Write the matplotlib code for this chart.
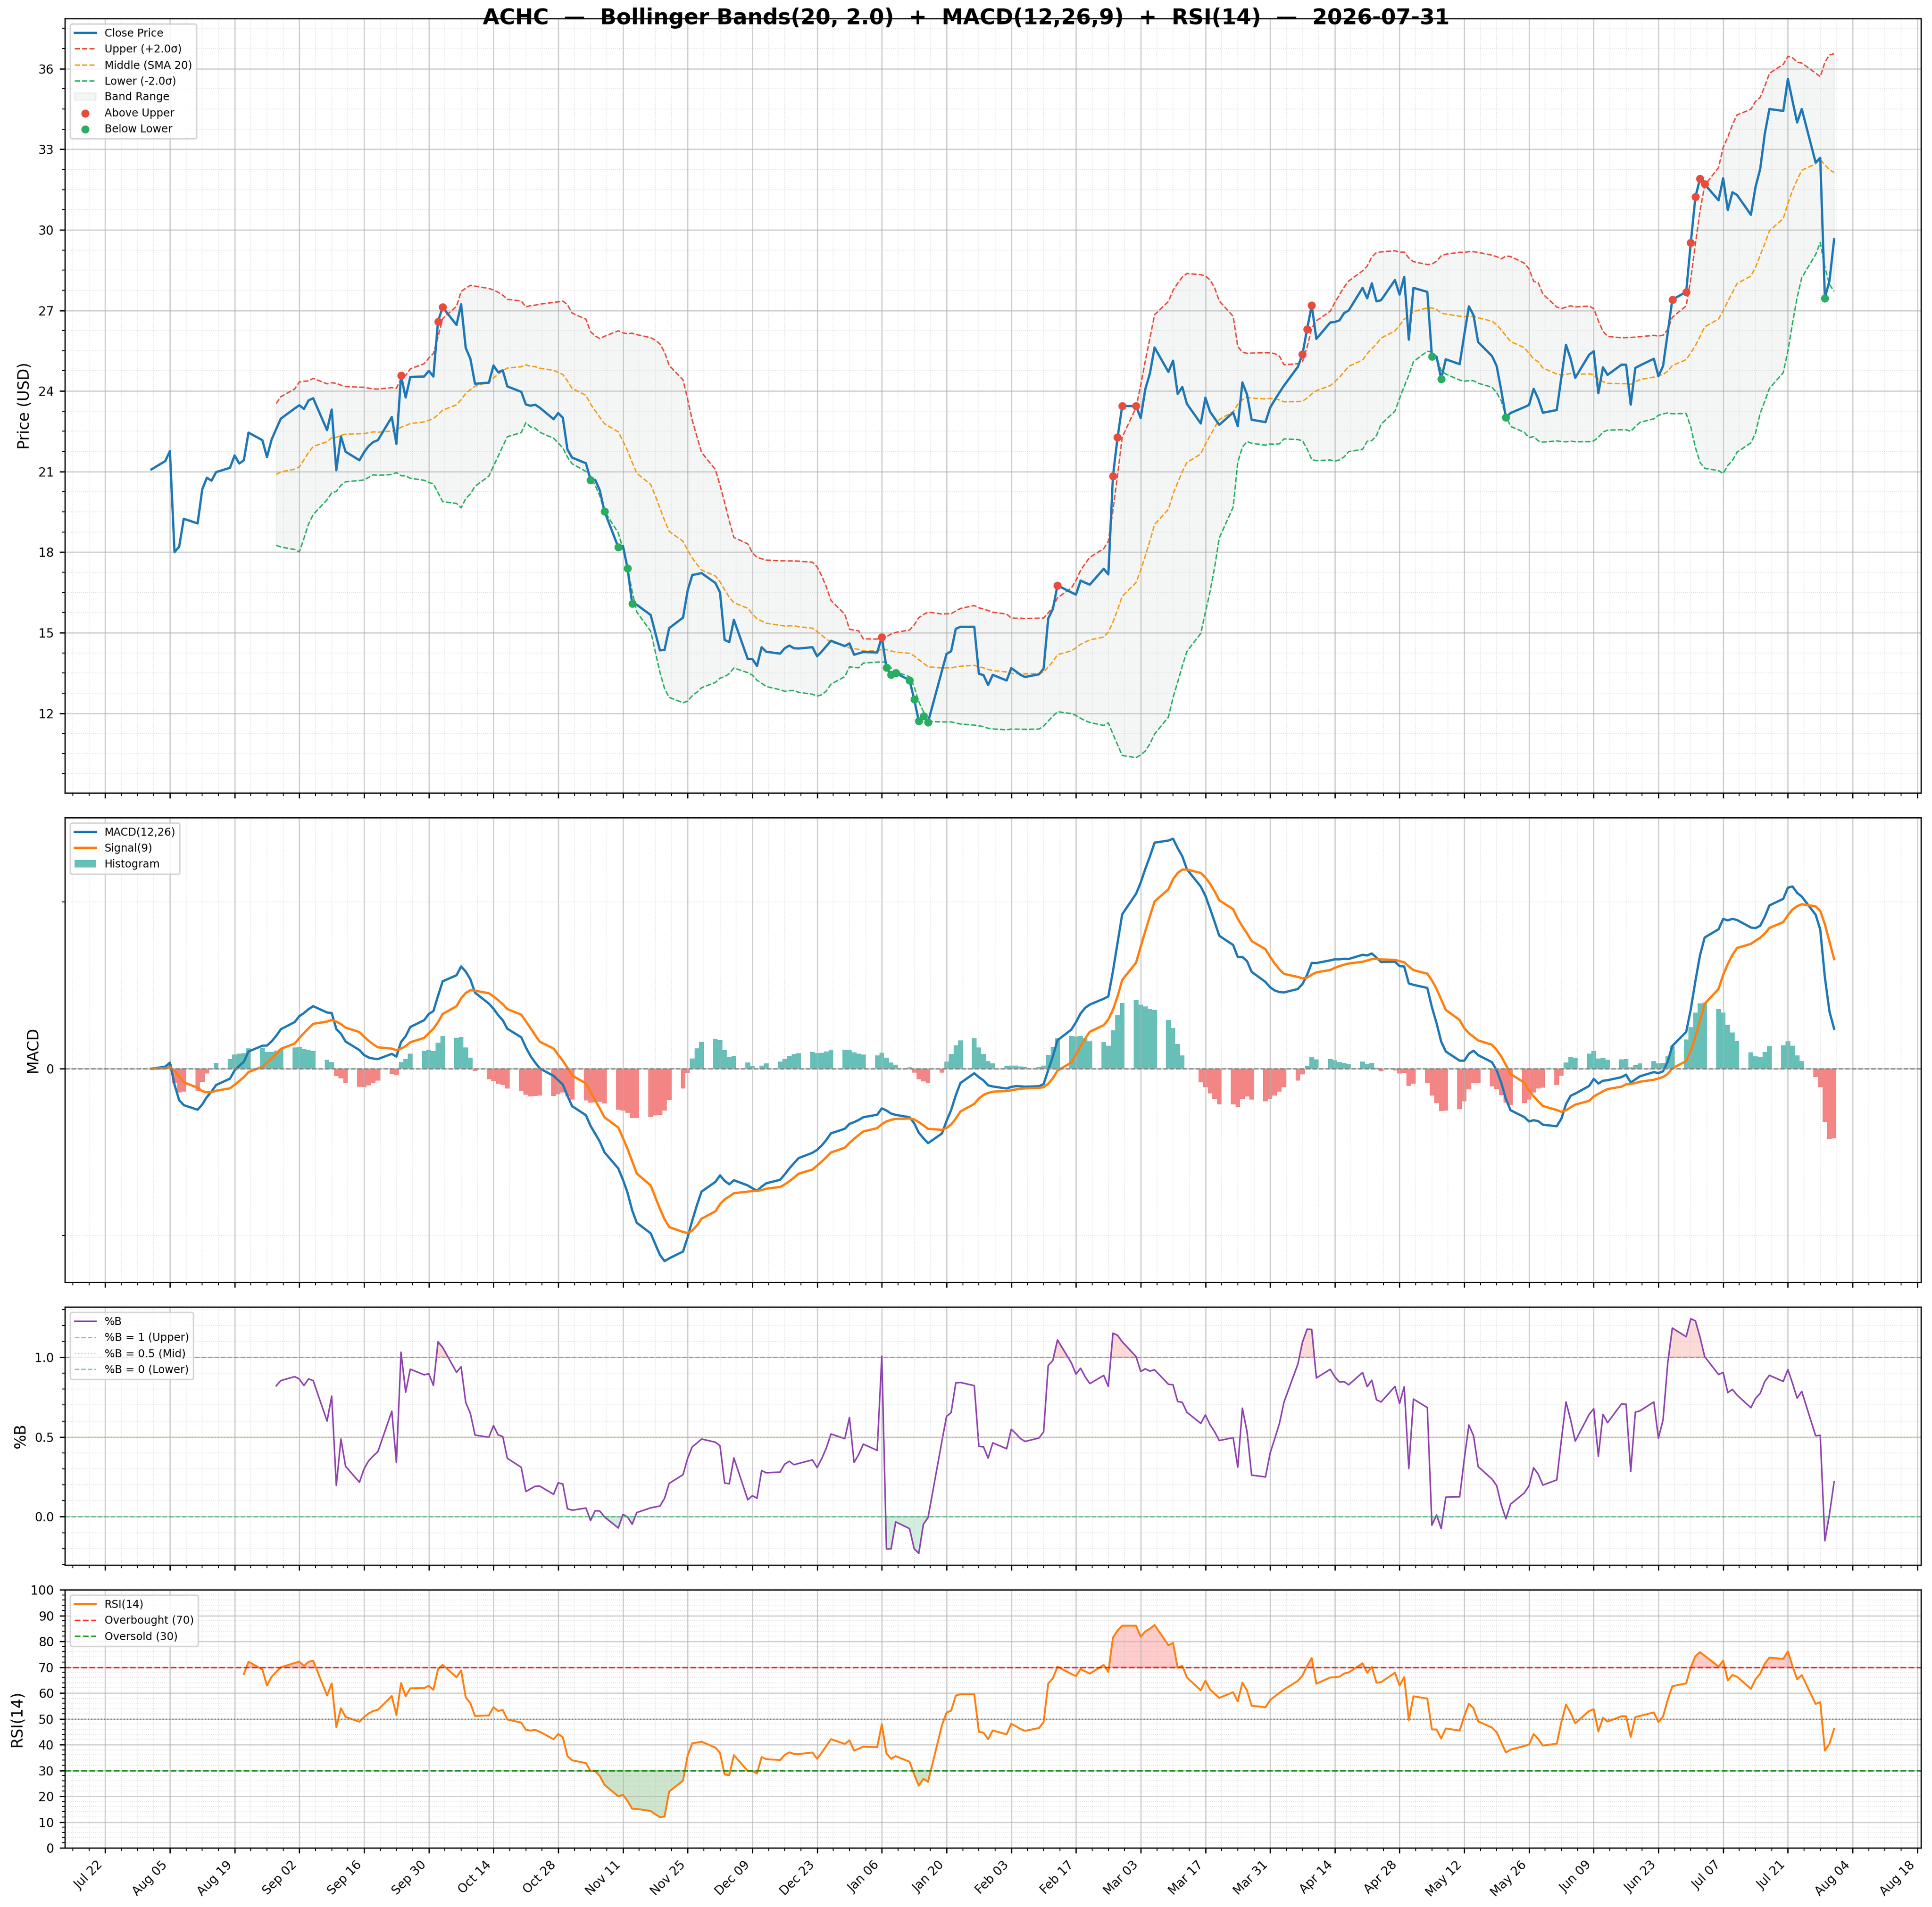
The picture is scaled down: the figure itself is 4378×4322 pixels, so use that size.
import matplotlib
matplotlib.use("Agg")
import matplotlib.pyplot as plt
import matplotlib.dates as mdates
from matplotlib.ticker import AutoMinorLocator, FixedLocator, MultipleLocator
import numpy as np
import pandas as pd

symbol = "ACHC"
as_of = "2026-07-31"

# daily closes (business days)
close_aug = [21.08, 21.39, 21.76, 18.00, 18.20, 19.24, 19.07, 20.34, 20.77, 20.66, 20.98,
             21.14, 21.60, 21.30, 21.42, 22.45, 22.17, 21.54, 22.19, 22.59, 22.97]
close_sep = [23.35, 23.47, 23.33, 23.65, 23.73, 22.54, 23.31, 21.05, 22.31, 21.74, 21.42,
             21.72, 21.95, 22.10, 22.17, 23.03, 22.03, 24.57, 23.76, 24.52, 24.54, 24.75]
close_oct = [24.54, 26.59, 27.12, 26.46, 27.23, 25.60, 25.20, 24.27, 24.31, 24.95, 24.70,
             24.77, 24.17, 23.97, 23.50, 23.45, 23.49, 23.38, 22.95, 23.18, 23.00, 21.82, 21.52]
close_nov = [21.31, 20.69, 20.69, 20.30, 19.52, 18.18, 18.23, 17.40, 16.08, 16.04, 15.66,
             15.00, 14.34, 14.36, 15.17, 15.56, 16.57, 17.15, 17.18, 17.22]
close_dec = [16.85, 16.50, 14.73, 14.65, 15.48, 14.02, 14.02, 13.76, 14.46, 14.29, 14.22,
             14.42, 14.52, 14.42, 14.41, 14.46, 14.12, 14.30, 14.50, 14.70, 14.50, 14.60, 14.18]
close_jan = [14.23, 14.28, 14.26, 14.84, 13.70, 13.43, 13.50, 13.23, 12.52, 11.71, 11.89,
             11.67, 13.58, 14.21, 14.31, 15.14, 15.22, 15.22, 13.47, 13.42, 13.05, 13.43]
close_feb = [13.22, 13.68, 13.56, 13.43, 13.35, 13.45, 13.66, 15.53, 15.88, 16.76, 16.50,
             16.42, 16.94, 16.86, 16.79, 17.38, 17.17, 20.83, 22.27, 23.44]
close_mar = [23.44, 22.99, 24.07, 24.66, 25.62, 24.71, 25.13, 23.89, 24.15, 23.52, 22.79,
             23.75, 23.23, 22.98, 22.74, 23.20, 22.69, 24.32, 23.87, 22.93, 22.84, 23.38]
close_apr = [23.67, 23.94, 24.20, 24.90, 25.37, 26.31, 27.19, 25.94, 26.55, 26.57, 26.63,
             26.90, 27.00, 27.84, 27.45, 28.01, 27.34, 27.38, 28.13, 27.59, 28.25, 25.91]
close_may = [27.84, 27.69, 25.28, 25.28, 24.45, 25.18, 25.00, 26.10, 27.15, 26.82, 25.82,
             25.30, 24.93, 24.02, 23.01, 23.18, 23.40, 23.48, 24.08, 23.71, 23.19]
close_jun = [23.29, 24.50, 25.72, 25.20, 24.49, 25.35, 25.48, 23.92, 24.88, 24.60, 24.98,
             24.98, 23.49, 24.86, 24.95, 25.20, 24.55, 24.93, 26.17, 27.40, 27.69, 29.53]
close_jul = [31.23, 31.90, 31.70, 31.10, 31.92, 30.74, 31.40, 31.30, 30.56, 31.60, 32.26,
             33.57, 34.50, 34.43, 35.62, 34.80, 34.00, 34.50, 32.51, 32.68, 27.46, 28.11, 29.65]

dates = pd.bdate_range("2025-08-01", as_of)
close = pd.Series(np.concatenate([close_aug, close_sep, close_oct, close_nov, close_dec,
                                  close_jan, close_feb, close_mar, close_apr, close_may,
                                  close_jun, close_jul]), index=dates)

# indicators
bb_n, bb_k = 20, 2.0
middle = close.rolling(bb_n).mean()
sd = close.rolling(bb_n).std()
upper = middle + bb_k * sd
lower = middle - bb_k * sd
pct_b = (close - lower) / (upper - lower)

macd = close.ewm(span=12, adjust=False).mean() - close.ewm(span=26, adjust=False).mean()
signal = macd.ewm(span=9, adjust=False).mean()
hist = macd - signal

delta = close.diff()
avg_gain = delta.clip(lower=0).ewm(alpha=1 / 14, adjust=False, min_periods=14).mean()
avg_loss = (-delta.clip(upper=0)).ewm(alpha=1 / 14, adjust=False, min_periods=14).mean()
rsi = 100 - 100 / (1 + avg_gain / avg_loss)

above = close > upper
below = close < lower

fig = plt.figure(figsize=(4378 / 250, 4322 / 250), dpi=250)
gs = fig.add_gridspec(4, 1, height_ratios=[3, 1.8, 1, 1], left=0.0335, right=0.9942,
                      top=0.9903, bottom=0.031, hspace=0.0563)
ax1 = fig.add_subplot(gs[0])
ax2 = fig.add_subplot(gs[1], sharex=ax1)
ax3 = fig.add_subplot(gs[2], sharex=ax1)
ax4 = fig.add_subplot(gs[3], sharex=ax1)

# price + bands
ax1.plot(dates, close, color="#1f77b4", lw=1.5, label="Close Price", zorder=4)
ax1.plot(dates, upper, color="#e74c3c", ls="--", lw=0.9, label="Upper (+2.0σ)")
ax1.plot(dates, middle, color="#f39c12", ls="--", lw=0.9, label="Middle (SMA 20)")
ax1.plot(dates, lower, color="#27ae60", ls="--", lw=0.9, label="Lower (-2.0σ)")
ax1.fill_between(dates, upper, lower, color="#95a5a6", alpha=0.1, label="Band Range")
ax1.scatter(dates[above], close[above], color="#e74c3c", s=18, zorder=5, label="Above Upper")
ax1.scatter(dates[below], close[below], color="#27ae60", s=18, zorder=5, label="Below Lower")
ax1.set_ylabel("Price (USD)", fontsize=10)
ax1.yaxis.set_major_locator(MultipleLocator(3))
ax1.legend(loc="upper left", fontsize=7)

# macd
bar_colors = np.where(hist >= 0, "#26a69a", "#ef5350")
ax2.bar(dates, hist, width=1.0, color=bar_colors, alpha=0.7, label="Histogram")
ax2.plot(dates, macd, color="#1f77b4", lw=1.5, label="MACD(12,26)")
ax2.plot(dates, signal, color="#ff7f0e", lw=1.5, label="Signal(9)")
ax2.axhline(0, color="gray", ls="--", lw=0.8)
ax2.set_ylabel("MACD", fontsize=10)
ax2.legend(loc="upper left", fontsize=7)

# %B
ax3.plot(dates, pct_b, color="#8e44ad", lw=1.0, label="%B")
ax3.axhline(1, color="#e74c3c", ls="--", lw=0.8, alpha=0.6, label="%B = 1 (Upper)")
ax3.axhline(0.5, color="#f39c12", ls=":", lw=0.8, alpha=0.6, label="%B = 0.5 (Mid)")
ax3.axhline(0, color="#27ae60", ls="--", lw=0.8, alpha=0.6, label="%B = 0 (Lower)")
ax3.fill_between(dates, pct_b, 1, where=pct_b > 1, color="#e74c3c", alpha=0.2, interpolate=True)
ax3.fill_between(dates, pct_b, 0, where=pct_b < 0, color="#27ae60", alpha=0.2, interpolate=True)
ax3.set_ylabel("%B", fontsize=10)
ax3.yaxis.set_major_locator(MultipleLocator(0.5))
ax3.legend(loc="upper left", fontsize=7)

# rsi
ax4.plot(dates, rsi, color="#ff7f0e", lw=1.2, label="RSI(14)")
ax4.axhline(70, color="red", ls="--", lw=1.0, alpha=0.8, label="Overbought (70)")
ax4.axhline(30, color="green", ls="--", lw=1.0, alpha=0.8, label="Oversold (30)")
ax4.axhline(50, color="gray", ls=":", lw=0.8)
ax4.fill_between(dates, rsi, 70, where=rsi > 70, color="red", alpha=0.2, interpolate=True)
ax4.fill_between(dates, rsi, 30, where=rsi < 30, color="green", alpha=0.2, interpolate=True)
ax4.set_ylim(0, 100)
ax4.set_yticks(range(0, 101, 10))
ax4.set_ylabel("RSI(14)", fontsize=10)
ax4.legend(loc="upper left", fontsize=7)

tick_days = pd.date_range("2025-07-22", periods=29, freq="14D")
ax4.xaxis.set_major_locator(FixedLocator(mdates.date2num(tick_days)))
ax4.xaxis.set_major_formatter(mdates.DateFormatter("%b %d"))
for ax in (ax1, ax2, ax3, ax4):
    ax.xaxis.set_minor_locator(AutoMinorLocator())
    ax.yaxis.set_minor_locator(AutoMinorLocator())
    ax.grid(True, which="major", color="#b0b0b0", lw=0.8, alpha=0.6)
    ax.grid(True, which="minor", color="#b0b0b0", ls=":", lw=0.5, alpha=0.4)
    ax.tick_params(labelsize=8)
# MACD axis: only the zero line is labelled
ax2.yaxis.set_major_locator(FixedLocator([0]))
ax2.yaxis.set_minor_locator(MultipleLocator(2))
for ax in (ax1, ax2, ax3):
    plt.setp(ax.get_xticklabels(), visible=False)
plt.setp(ax4.get_xticklabels(), rotation=45, ha="right")

fig.suptitle(f"{symbol}  —  Bollinger Bands(20, 2.0)  +  MACD(12,26,9)  +  RSI(14)  —  {as_of}",
             fontsize=14, fontweight="bold", y=0.9905, va="center")

fig.savefig("out.png", dpi=250)
